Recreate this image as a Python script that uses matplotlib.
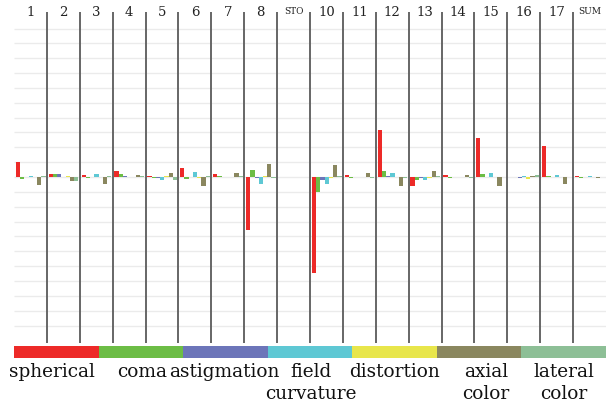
import numpy as np
import matplotlib
matplotlib.use('Agg')
import matplotlib.pyplot as plt

surfaces = ['1', '2', '3', '4', '5', '6', '7', '8', 'STO', '10', '11', '12',
            '13', '14', '15', '16', '17', 'SUM']
aberrations = ['spherical', 'coma', 'astigmation', 'field\ncurvature',
               'distortion', 'axial\ncolor', 'lateral\ncolor']
colors = ['#ed2a28', '#6cbd45', '#6c75b9', '#5ec8d4', '#e8e64b', '#8a875f', '#8dbf96']

# seidel coefficients per surface, in grid units
spherical = [0.99, 0.2, 0.12, 0.42, 0.1, 0.63, 0.18, -3.57, 0.03, -6.44,
             0.15, 3.15, -0.62, 0.13, 2.64, 0.02, 2.08, 0.08]
coma = [-0.13, 0.2, -0.05, 0.18, -0.08, -0.15, 0.05, 0.5, 0.02, -1.0,
        -0.08, 0.38, -0.2, -0.1, 0.18, 0.02, 0.1, -0.05]
astigmation = [0.03, 0.2, 0.02, 0.05, -0.05, 0.02, 0.02, -0.1, 0.02, -0.2,
               -0.03, 0.05, -0.1, 0.02, 0.02, -0.08, 0.02, 0.02]
field_curv = [0.1, 0.03, 0.2, -0.03, -0.22, 0.34, 0.02, -0.49, 0.02, -0.45,
              0.02, 0.3, -0.2, 0.02, 0.25, 0.1, 0.12, 0.08]
distortion = [0.02, 0.1, 0.02, 0.02, 0.05, -0.1, 0.02, 0.1, 0.02, -0.1,
              0.02, 0.02, -0.1, -0.03, 0.02, -0.15, 0.02, 0.02]
axial_color = [-0.54, -0.27, -0.45, 0.15, 0.25, -0.58, 0.29, 0.85, 0.02, 0.8,
               0.27, -0.6, 0.42, 0.12, -0.6, 0.05, -0.45, -0.07]
lateral_color = [0.05, -0.27, 0.05, 0.05, -0.2, 0.05, 0.05, -0.1, 0.02, 0.05,
                 -0.05, -0.05, 0.1, -0.05, -0.03, 0.13, 0.03, 0.02]

series = [spherical, coma, astigmation, field_curv, distortion, axial_color, lateral_color]

W, H = 616, 405
fig = plt.figure(figsize=(W / 100, H / 100), dpi=100)

# main bar area (pixel coords converted to figure fractions)
left, right, top, bottom = 14, 606, 12, 343
base = 177
unit = 14.85
ax = fig.add_axes([left / W, (H - bottom) / H, (right - left) / W, (bottom - top) / H])
n = len(surfaces)
ax.set_xlim(0, n)
ax.set_ylim(-(bottom - base) / unit, (base - top) / unit)
ax.axis('off')

# faint horizontal grid
ax.hlines(np.arange(-10, 11), 0, n, colors='#ebebeb', lw=1, zorder=0)

bw = 0.129
x = np.arange(n)
for k, vals in enumerate(series):
    ax.bar(x + 0.055 + k * bw, vals, width=bw, align='edge', color=colors[k],
           edgecolor='none', zorder=2)

# column separators
ax.vlines(np.arange(1, n), -(bottom - base) / unit, (base - top) / unit,
          colors='#666666', lw=1.4, zorder=3)

for i, s in enumerate(surfaces):
    small = s in ('STO', 'SUM')
    ax.text(i + 0.5, 1.0, s, transform=ax.get_xaxis_transform(), ha='center',
            va='center', fontsize=6.5 if small else 9.5, family='DejaVu Serif',
            color='#222222')

# colour key strip
cax = fig.add_axes([left / W, (H - 357.7) / H, (right - left) / W, 12 / H])
cax.bar(np.arange(7), 1, width=1, align='edge', color=colors, edgecolor='none')
cax.set_xlim(0, 7)
cax.set_ylim(0, 1)
cax.axis('off')

# label nudges (px) so the names sit like the original
nudge = [-4, 1, -1, 1, 0, 7, 0]
seg = (right - left) / 7
for k, name in enumerate(aberrations):
    cx = left + seg * (k + 0.5) + nudge[k]
    for j, line in enumerate(name.split('\n')):
        fig.text(cx / W, 1 - (377 + 22 * j) / H, line, ha='center', va='baseline',
                 fontsize=13.3, family='DejaVu Serif', color='#111111')

fig.savefig('out.png', dpi=100)
